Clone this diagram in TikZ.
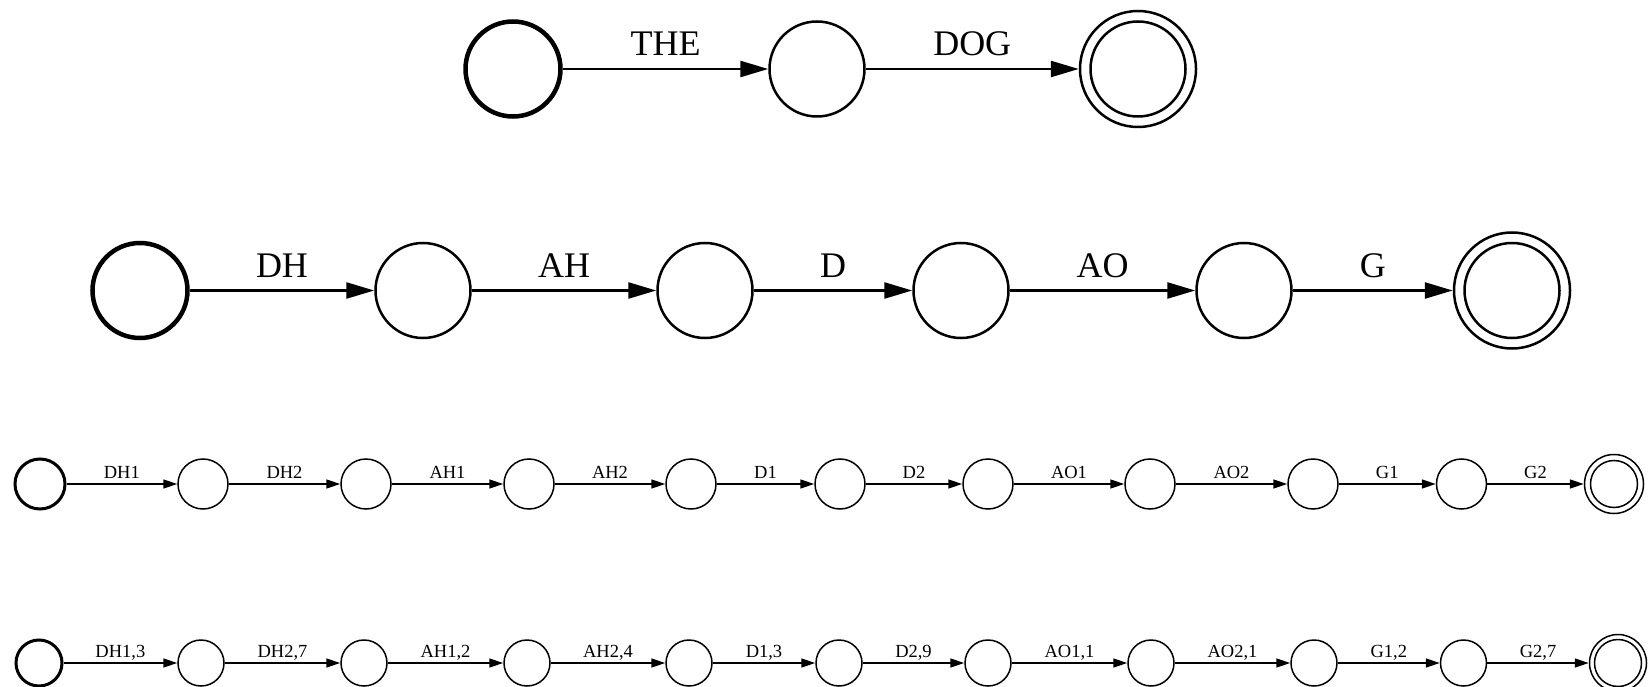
\documentclass[tikz,border=0pt]{standalone}
\usepackage{fontspec}
\setmainfont{Liberation Serif}
\usetikzlibrary{arrows.meta}
\begin{document}
\begin{tikzpicture}[x=1pt,y=-1pt,
  bigstate/.style={circle,draw,line width=2.5pt,inner sep=0pt,minimum size=95pt},
  bigstart/.style={bigstate,line width=4.5pt},
  bigfinal/.style={bigstate,minimum size=116pt},
  biginner/.style={bigstate,minimum size=95pt},
  bigedge/.style={line width=2.5pt,-{Triangle[length=28pt,width=16pt]}},
  biglabel/.style={font=\fontsize{36}{40}\selectfont,anchor=base,yshift=13pt,inner sep=0pt},
  smallstate/.style={circle,draw,line width=1.5pt,inner sep=0pt,minimum size=#1},
  smallstart/.style={smallstate=#1,line width=3pt},
  smalledge/.style={line width=1.5pt,-{Triangle[length=14pt,width=9pt]}},
  smalllabel/.style={font=\fontsize{18.5}{20}\selectfont,anchor=base,yshift=5.5pt,inner sep=0pt}
]
\useasboundingbox (0,0) rectangle (1652,687);

% Row 1
\node[bigstart] (a1) at (513,69) {};
\node[bigstate] (a2) at (817,69) {};
\node[bigfinal] (a3) at (1138,69) {};
\node[biginner] (a3in) at (a3) {};
\draw[bigedge] (a1) -- node[biglabel,midway] {THE} (a2);
\draw[bigedge] (a2) -- node[biglabel,midway] {DOG} (a3);

% Row 2
\node[bigstart] (b1) at (140,290.5) {};
\node[bigstate] (b2) at (423,290.5) {};
\node[bigstate] (b3) at (705,290.5) {};
\node[bigstate] (b4) at (961,290.5) {};
\node[bigstate] (b5) at (1244,290.5) {};
\node[bigfinal] (b6) at (1512,290.5) {};
\node[biginner] (b6in) at (b6) {};
\draw[bigedge] (b1) -- node[biglabel,midway] {DH} (b2);
\draw[bigedge] (b2) -- node[biglabel,midway] {AH} (b3);
\draw[bigedge] (b3) -- node[biglabel,midway] {D} (b4);
\draw[bigedge] (b4) -- node[biglabel,midway] {AO} (b5);
\draw[bigedge] (b5) -- node[biglabel,midway] {G} (b6);

% Row 3
\node[smallstart=50pt] (c1) at (40,484) {};
\foreach \n/\x in {2/203,3/366,4/529,5/691,6/840,7/988,8/1150,9/1313,10/1461.5}
  \node[smallstate=50pt] (c\n) at (\x,484) {};
\node[smallstate=59pt] (c11) at (1614,484) {};
\node[smallstate=47pt] (c11in) at (c11) {};
\foreach \a/\b/\t in {1/2/DH1,2/3/DH2,3/4/AH1,4/5/AH2,5/6/D1,6/7/D2,7/8/AO1,8/9/AO2,9/10/G1,10/11/G2}
  \draw[smalledge] (c\a) -- node[smalllabel,midway] {\t} (c\b);

% Row 4
\node[smallstart=46pt] (d1) at (39,663) {};
\foreach \n/\x in {2/201,3/364,4/527,5/689,6/839,7/988,8/1151,9/1314,10/1463.5}
  \node[smallstate=46pt] (d\n) at (\x,663) {};
\node[smallstate=57pt] (d11) at (1618,663) {};
\node[smallstate=47pt] (d11in) at (d11) {};
\foreach \a/\b/\t in {1/2/{DH1,3},2/3/{DH2,7},3/4/{AH1,2},4/5/{AH2,4},5/6/{D1,3},6/7/{D2,9},7/8/{AO1,1},8/9/{AO2,1},9/10/{G1,2},10/11/{G2,7}}
  \draw[smalledge] (d\a) -- node[smalllabel,midway] {\t} (d\b);
\end{tikzpicture}
\end{document}
